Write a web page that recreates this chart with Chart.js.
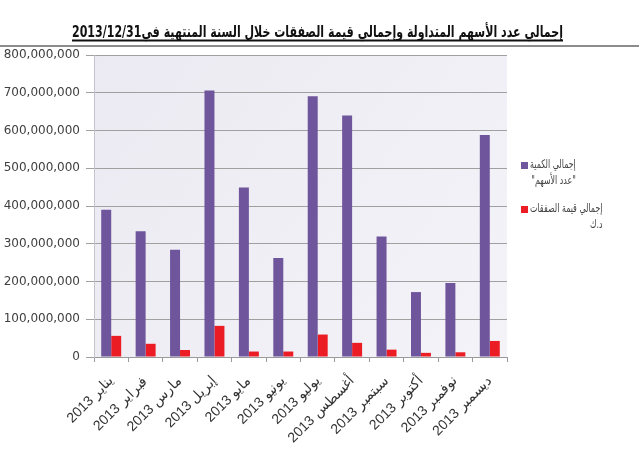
<!DOCTYPE html>
<html>
<head>
<meta charset="utf-8">
<script src="https://cdn.jsdelivr.net/npm/chart.js@4"></script>
<style>
body { margin: 0; background: #fff; }
#wrap { width: 639px; height: 450px; position: relative; }
</style>
</head>
<body>
<div id="wrap"><canvas id="myChart" dir="rtl"></canvas></div>
<script>
// 차트 데이터
var months = ['يناير 2013', 'فبراير 2013', 'مارس 2013', 'إبريل 2013', 'مايو 2013', 'يونيو 2013',
	'يوليو 2013', 'أغسطس 2013', 'سبتمبر 2013', 'أكتوبر 2013', 'نوفمبر 2013', 'ديسمبر 2013'];
var sharesTraded = [390e6, 333e6, 284e6, 706e6, 449e6, 262e6, 691e6, 640e6, 319e6, 172e6, 196e6, 588e6];
var dealsValue = [56e6, 35e6, 18.5e6, 82.5e6, 14.5e6, 14.5e6, 59.5e6, 37.5e6, 19.5e6, 11e6, 12.5e6, 42.5e6];
var yTicks = [0, 100e6, 200e6, 300e6, 400e6, 500e6, 600e6, 700e6, 800e6];

var titleText = 'إجمالي عدد الأسهم المتداولة وإجمالي قيمة الصفقات خلال السنة المنتهية في2013/12/31';
var legendLines = [
	['إجمالي الكمية', '"عدد الأسهم"'],
	['إجمالي قيمة الصفقات', 'د.ك']
];

var purple = '#6f559b';
var red = '#ec1c24';

// 가로로 눌러서 글자 그리기 (left = 왼쪽 끝)
function drawSqueezed(ctx, text, left, y, sx) {
	ctx.save();
	ctx.translate(left, y);
	ctx.scale(sx, 1);
	ctx.textAlign = 'left';
	ctx.fillText(text, 0, 0);
	ctx.restore();
	return ctx.measureText(text).width * sx;
}

// 배경 + 제목 + 범례 그리기
var decoPlugin = {
	id: 'deco',
	beforeDraw: function(chart) {
		var a = chart.chartArea;
		var ctx = chart.ctx;
		ctx.save();
		var g = ctx.createLinearGradient(a.left, a.top, a.right, a.bottom);
		g.addColorStop(0, '#ebeaf2');
		g.addColorStop(1, '#f4f3f8');
		ctx.fillStyle = g;
		ctx.fillRect(a.left, a.top, a.right - a.left, a.bottom - a.top);
		ctx.restore();
	},
	afterDraw: function(chart) {
		var ctx = chart.ctx;
		ctx.save();
		ctx.direction = 'rtl';
		// 제목 (72 ~ 563 폭에 맞춤)
		ctx.font = 'bold 16px "DejaVu Sans"';
		ctx.fillStyle = '#111';
		ctx.textBaseline = 'alphabetic';
		var tw = ctx.measureText(titleText).width;
		var tLeft = 72, tRight = 563;
		drawSqueezed(ctx, titleText, tLeft, 37, (tRight - tLeft) / tw);
		ctx.fillRect(tLeft, 39.5, tRight - tLeft, 2);
		// 제목 아래 가로선
		ctx.fillStyle = '#8c8c8c';
		ctx.fillRect(0, 45, 639, 2);
		// 범례
		var colors = [purple, red];
		var ys = [165, 209];
		ctx.font = '12px "DejaVu Sans"';
		ctx.textBaseline = 'middle';
		for (var i = 0; i < 2; i++) {
			ctx.fillStyle = colors[i];
			ctx.fillRect(521, ys[i] - 3, 7, 7);
			ctx.fillStyle = '#444';
			var w1 = drawSqueezed(ctx, legendLines[i][0], 530, ys[i], 0.66);
			var w2 = ctx.measureText(legendLines[i][1]).width * 0.66;
			drawSqueezed(ctx, legendLines[i][1], 530 + w1 - w2, ys[i] + 16, 0.66);
		}
		ctx.restore();
	}
};

var ctx = document.getElementById('myChart');

var myChart = new Chart(ctx, {
	type: 'bar',
	data: {
		labels: months,
		datasets: [{
			label: legendLines[0].join(' '),
			data: sharesTraded,
			backgroundColor: purple,
			categoryPercentage: 0.58,
			barPercentage: 1
		}, {
			label: legendLines[1].join(' '),
			data: dealsValue,
			backgroundColor: red,
			categoryPercentage: 0.58,
			barPercentage: 1
		}]
	},
	options: {
		responsive: true,
		maintainAspectRatio: false,
		animation: false,
		layout: {
			padding: { top: 55, right: 132, left: 0, bottom: 0 }
		},
		plugins: {
			legend: { display: false },
			title: { display: false },
			tooltip: { enabled: false }
		},
		scales: {
			x: {
				afterFit: function(scale) { scale.height = 93; },
				grid: {
					drawOnChartArea: false,
					drawTicks: true,
					tickLength: 5,
					color: '#9a9a9a'
				},
				border: { color: '#9a9a9a' },
				ticks: {
					minRotation: 45,
					maxRotation: 45,
					padding: 11,
					color: '#333',
					font: { family: '"Liberation Sans"', size: 14 }
				}
			},
			y: {
				min: 0,
				max: 800e6,
				afterFit: function(scale) { scale.width = 94; },
				afterBuildTicks: function(scale) {
					scale.ticks = yTicks.map(function(v) { return { value: v }; });
				},
				grid: {
					color: '#a0a0a0',
					tickLength: 8
				},
				border: { color: '#c4c4cc' },
				ticks: {
					padding: 6,
					color: '#404040',
					font: { family: '"DejaVu Sans"', size: 12 },
					callback: function(v) { return v.toLocaleString('en-US'); }
				}
			}
		}
	},
	plugins: [decoPlugin]
});
</script>
</body>
</html>
